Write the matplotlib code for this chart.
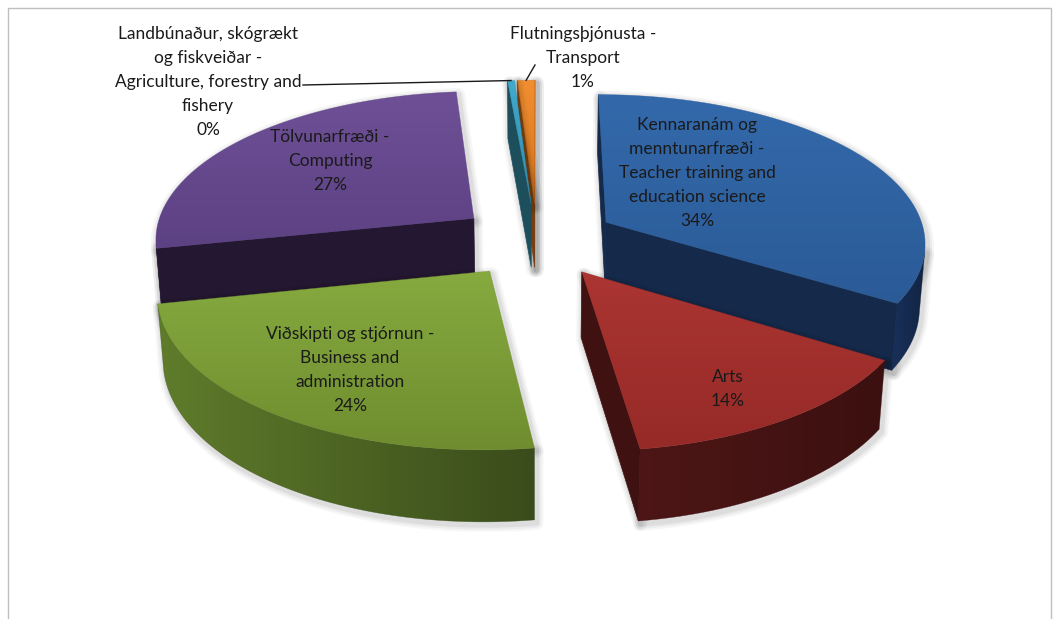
import numpy as np
import matplotlib.pyplot as plt
from matplotlib.patches import Polygon, Rectangle
from matplotlib.colors import LinearSegmentedColormap

# data (slices in Excel order, clockwise from 12 o'clock)
names = ["Kennaranám og\nmenntunarfræði -\nTeacher training and\neducation science",
         "Arts",
         "Viðskipti og stjórnun -\nBusiness and\nadministration",
         "Tölvunarfræði -\nComputing",
         "Landbúnaður, skógrækt\nog fiskveiðar -\nAgriculture, forestry and\nfishery",
         "Flutningsþjónusta -\nTransport"]
values = [34, 14, 24, 27, 0.4, 1]

# colours: top face (light, dark), outer side (left, right), cut face
top_colors = [("#3369AB", "#2B5B97"), ("#AB3532", "#962A27"), ("#86AA3F", "#6F8D2F"),
              ("#6F5097", "#5C4183"), ("#40AACD", "#2F8DB0"), ("#F08E30", "#D9761F")]
side_colors = [("#18305A", "#122443"), ("#4E1616", "#3C1010"), ("#5F7C2B", "#3A4C1B"),
               ("#2A1B3A", "#21152E"), ("#1D4E5C", "#1D4E5C"), ("#8A4A12", "#8A4A12")]
cut_colors = ["#15294A", "#3F1111", "#45591F", "#241731", "#1D4E5C", "#8A4A12"]

# label text block centres (px) and which labels use a leader line
label_xy = [(697, 173), (728, 389), (350, 370), (330, 161), (208, 82), (583, 58)]
leader_from = {4: (303, 85), 5: (535, 65)}

# camera / pie geometry
elev = np.radians(27.5)
dist = 7.07
focal = 2265
height = 0.23
explode = 0.25
cx, cy = 537, 240
s, c = np.sin(elev), np.cos(elev)
cam = np.array([0.0, dist * s, dist * c])


def proj(p):
    X, Y, Z = p
    v = Y * c - Z * s
    w = Y * s + Z * c
    k = focal / (dist - w)
    return cx + X * k, cy - v * k


def visible(pts, normal):
    cen = np.mean(np.array(pts), axis=0)
    return np.dot(normal, cam - cen) > 0


def grad_fill(ax, poly, c0, c1, zo, vertical=True):
    patch = Polygon(poly, closed=True, fc="none", ec="none", zorder=zo)
    ax.add_patch(patch)
    cmap = LinearSegmentedColormap.from_list("g", [c0, c1])
    x0, x1 = poly[:, 0].min(), poly[:, 0].max()
    y0, y1 = poly[:, 1].min(), poly[:, 1].max()
    g = np.linspace(0, 1, 256)
    g = g.reshape(-1, 1) if vertical else g.reshape(1, -1)
    im = ax.imshow(g, cmap=cmap, extent=[x0, x1, y1, y0], aspect="auto",
                   interpolation="bilinear", zorder=zo)
    im.set_clip_path(patch)
    ax.add_patch(Polygon(poly, closed=True, fc="none", ec=c1, lw=0.4, alpha=0.6, zorder=zo))


fig = plt.figure(figsize=(10.56, 6.19), dpi=100)
ax = fig.add_axes([0, 0, 1, 1])
ax.axis("off")

ax.add_patch(Rectangle((8, 8), 1043, 640, fill=False, ec="#BFBFBF", lw=1.0))

total = sum(values)
bounds = np.concatenate([[0], np.cumsum(values)]) / total * 2 * np.pi

slices = []
for i in range(len(values)):
    a0, a1 = bounds[i], bounds[i + 1]
    m = (a0 + a1) / 2
    ox, oz = explode * np.sin(m), -explode * np.cos(m)
    slices.append((oz * c, i, a0, a1, ox, oz))
slices.sort()

zo = 1
for _, i, a0, a1, ox, oz in slices:
    n = max(3, int(np.degrees(a1 - a0) / 1.5) + 2)
    th = np.linspace(a0, a1, n)
    top3 = [(ox + np.sin(t), 0.0, oz - np.cos(t)) for t in th]
    bot3 = [(x, -height, z) for x, _, z in top3]
    o_top = (ox, 0.0, oz)
    o_bot = (ox, -height, oz)
    cuts, outer = [], []
    r0 = [o_top, top3[0], bot3[0], o_bot]
    if visible(r0, -np.array([np.cos(a0), 0, np.sin(a0)])):
        cuts.append(r0)
    r1 = [o_top, top3[-1], bot3[-1], o_bot]
    if visible(r1, np.array([np.cos(a1), 0, np.sin(a1)])):
        cuts.append(r1)
    vis = []
    for j in range(n - 1):
        tm = (th[j] + th[j + 1]) / 2
        q = [top3[j], top3[j + 1], bot3[j + 1], bot3[j]]
        vis.append(visible(q, np.array([np.sin(tm), 0, -np.cos(tm)])))
    j = 0
    while j < n - 1:
        if vis[j]:
            k = j
            while k < n - 1 and vis[k]:
                k += 1
            outer.append(top3[j:k + 1] + bot3[j:k + 1][::-1])
            j = k
        else:
            j += 1

    top2 = np.array([proj(p) for p in [o_top] + top3])
    cut2 = [np.array([proj(p) for p in f]) for f in cuts]
    out2 = [np.array([proj(p) for p in f]) for f in outer]

    # soft shadow
    for lw, a in [(10, 0.035), (7, 0.045), (4, 0.06)]:
        for poly in cut2 + out2 + [top2]:
            ax.add_patch(Polygon(poly + [2, 3], closed=True, fc="none", ec="#000000",
                                 lw=lw, alpha=a, joinstyle="round", zorder=zo))
    zo += 1
    for poly in cut2:
        ax.add_patch(Polygon(poly, closed=True, fc=cut_colors[i], ec=cut_colors[i],
                             lw=0.5, zorder=zo))
    for poly in out2:
        grad_fill(ax, poly, side_colors[i][0], side_colors[i][1], zo, vertical=False)
    zo += 1
    grad_fill(ax, top2, top_colors[i][0], top_colors[i][1], zo)
    zo += 1

ax.set_xlim(0, 1056)
ax.set_ylim(619, 0)

for i in range(len(values)):
    pct = "%d%%" % round(values[i] / total * 100)
    x, y = label_xy[i]
    ax.text(x, y, names[i] + "\n" + pct, ha="center", va="center", fontsize=12.5,
            family="Lato", color="#1A1A1A", linespacing=1.62, zorder=100)
    if i in leader_from:
        m = (bounds[i] + bounds[i + 1]) / 2
        ox, oz = explode * np.sin(m), -explode * np.cos(m)
        ex, ey = proj((ox + np.sin(m), 0.0, oz - np.cos(m)))
        sx, sy = leader_from[i]
        ax.plot([sx, ex], [sy, ey], color="#1A1A1A", lw=1.0, zorder=100)

fig.savefig("out.png", dpi=100)
